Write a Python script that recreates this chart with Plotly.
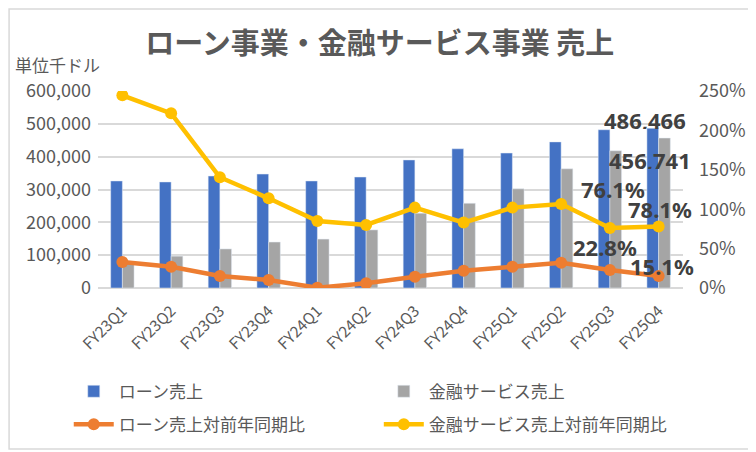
import plotly.graph_objects as go

categories = ["FY23Q1", "FY23Q2", "FY23Q3", "FY23Q4", "FY24Q1", "FY24Q2",
              "FY24Q3", "FY24Q4", "FY25Q1", "FY25Q2", "FY25Q3", "FY25Q4"]
loan_sales = [326000, 323000, 341000, 347000, 326000, 338000,
              390000, 424000, 411000, 445000, 482000, 486466]
finance_sales = [75000, 97000, 119000, 140000, 149000, 177000,
                 228000, 258000, 302000, 363000, 418000, 456741]
loan_yoy = [0.33, 0.27, 0.152, 0.102, 0.004, 0.06,
            0.144, 0.22, 0.27, 0.32, 0.228, 0.151]
finance_yoy = [2.445, 2.217, 1.405, 1.138, 0.85, 0.80,
               1.02, 0.83, 1.02, 1.066, 0.761, 0.781]

FONT = "Noto Sans CJK JP"
GREY_TEXT = "#595959"
LABEL_TEXT = "#404040"

fig = go.Figure()
fig.add_trace(go.Bar(x=categories, y=loan_sales, name="ローン売上",
                     marker_color="#4472C4", legend="legend", legendgroup="a"))
fig.add_trace(go.Bar(x=categories, y=finance_sales, name="金融サービス売上",
                     marker_color="#A5A5A5", legend="legend2", legendgroup="b"))
fig.add_trace(go.Scatter(x=categories, y=loan_yoy, name="ローン売上対前年同期比",
                         mode="lines+markers", yaxis="y2",
                         line=dict(color="#ED7D31", width=4.5),
                         marker=dict(size=12, color="#ED7D31"),
                         legend="legend", legendgroup="c"))
fig.add_trace(go.Scatter(x=categories, y=finance_yoy, name="金融サービス売上対前年同期比",
                         mode="lines+markers", yaxis="y2",
                         line=dict(color="#FFC000", width=4.5),
                         marker=dict(size=12, color="#FFC000"),
                         legend="legend2", legendgroup="d"))

# data labels on the last points
label_font = dict(family="Noto Sans", size=22, color=LABEL_TEXT)
labels = [
    (categories[-1], loan_sales[-1], "y", f"{loan_sales[-1]:,}", -14, 8),
    (categories[-1], finance_sales[-1], "y", f"{finance_sales[-1]:,}", -9, -22),
    (categories[-2], finance_yoy[-2], "y2", f"{finance_yoy[-2]*100:.1f}%", 3, 39),
    (categories[-1], finance_yoy[-1], "y2", f"{finance_yoy[-1]*100:.1f}%", 1, 17),
    (categories[-2], loan_yoy[-2], "y2", f"{loan_yoy[-2]*100:.1f}%", -5, 23),
    (categories[-1], loan_yoy[-1], "y2", f"{loan_yoy[-1]*100:.1f}%", 3, 10),
]
for cx, cy, yref, txt, dx, dy in labels:
    fig.add_annotation(x=cx, y=cy, xref="x", yref=yref, text=f"<b>{txt}</b>",
                       showarrow=False, xshift=dx, yshift=dy, height=18,
                       xanchor="center", yanchor="middle", font=label_font)

fig.add_annotation(text="単位千ドル", xref="paper", yref="paper",
                   x=-0.145, y=1.135, xanchor="left", yanchor="middle",
                   showarrow=False, font=dict(family=FONT, size=17, color=GREY_TEXT))

# chart border
fig.add_shape(type="rect", xref="paper", yref="paper",
              x0=-0.152, x1=1.12, y0=-0.817, y1=1.416,
              line=dict(color="#D9D9D9", width=1.5), layer="below")

legend_common = dict(orientation="v", xanchor="left", yanchor="top",
                     font=dict(family=FONT, size=17, color=GREY_TEXT),
                     bgcolor="rgba(0,0,0,0)", itemwidth=40,
                     traceorder="grouped", tracegroupgap=8)

# page body has an 8px margin, so the figure is drawn 8px smaller and shifted
fig.update_layout(
    width=748, height=444,
    margin=dict(l=90, r=73, t=83, b=164, autoexpand=False),
    paper_bgcolor="white", plot_bgcolor="white",
    font=dict(family=FONT, color=GREY_TEXT),
    title=dict(text="<b>ローン事業・金融サービス事業 売上</b>",
               x=0.497, xanchor="center", y=0.919, yanchor="middle",
               font=dict(family=FONT, size=29, color=GREY_TEXT)),
    barmode="group", bargap=0.52, bargroupgap=0,
    legend=dict(x=-0.05, y=-0.435, **legend_common),
    legend2=dict(x=0.48, y=-0.435, **legend_common),
    xaxis=dict(range=[-0.5, len(categories) - 0.5], autorange=False,
               tickangle=-45, tickfont=dict(family=FONT, size=15.5, color=GREY_TEXT),
               showgrid=False, showline=False, ticks="", ticklabelstandoff=10),
    yaxis=dict(range=[0, 600000], dtick=100000, tickformat=",d",
               tickfont=dict(family=FONT, size=18, color=GREY_TEXT),
               gridcolor="#D9D9D9", gridwidth=1.5, zeroline=True,
               zerolinecolor="#D9D9D9", zerolinewidth=1.5, showline=False,
               ticklabelstandoff=6),
    yaxis2=dict(range=[0, 2.5], dtick=0.5, tickformat=".0%", overlaying="y",
                side="right", showgrid=False, zeroline=False,
                tickfont=dict(family=FONT, size=18, color=GREY_TEXT),
                ticklabelstandoff=15),
)

fig.write_html("out.html")
